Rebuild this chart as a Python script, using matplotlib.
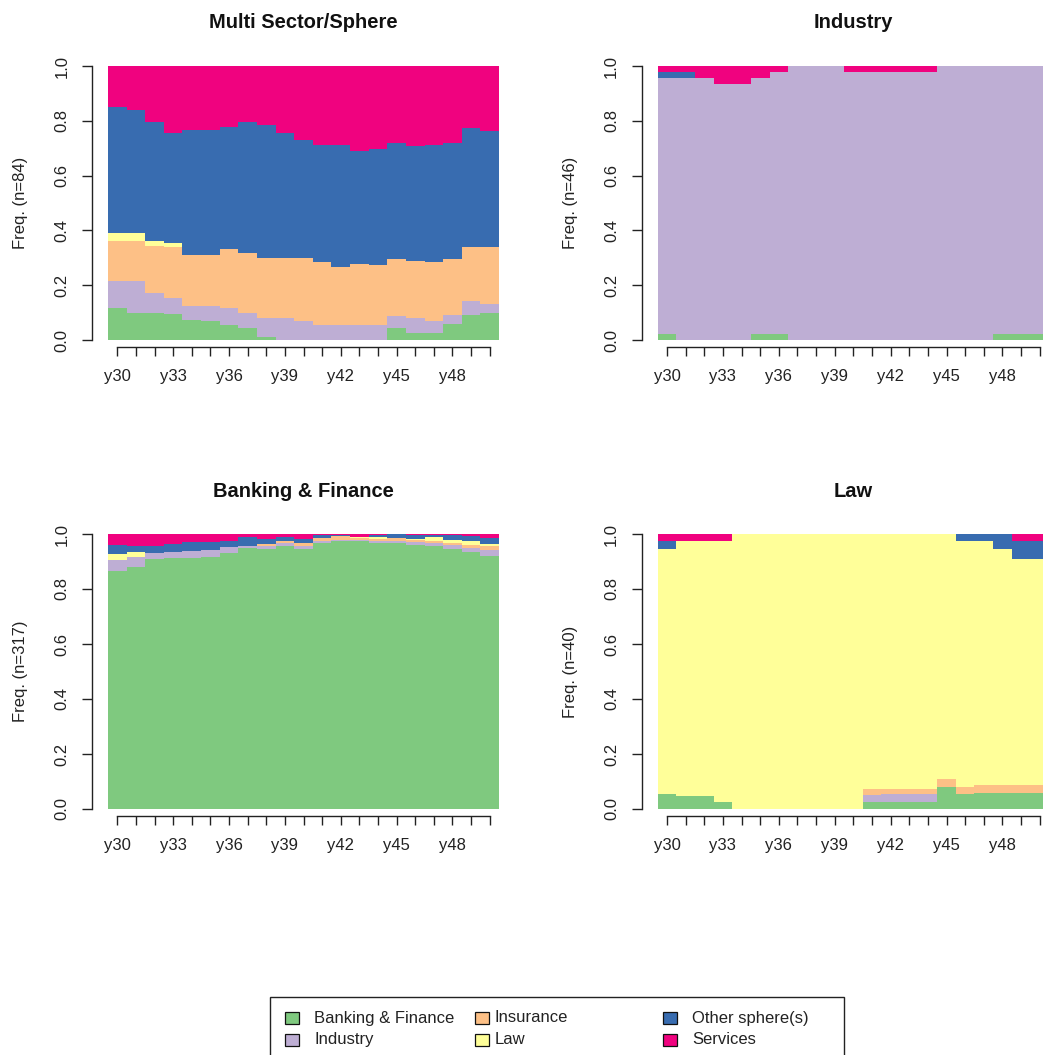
import matplotlib
matplotlib.use("Agg")
import matplotlib.pyplot as plt
from matplotlib.patches import Rectangle
import numpy as np

plt.rcParams['font.family'] = ['Liberation Sans', 'DejaVu Sans']

# states (bottom to top) and RColorBrewer "Accent" colours
states = ['Banking & Finance', 'Industry', 'Insurance', 'Law', 'Other sphere(s)', 'Services']
colors = ['#7FC97F', '#BEAED4', '#FDC086', '#FFFF99', '#386CB0', '#F0027F']
years = ['y%d' % y for y in range(30, 51)]

# --- Multi Sector/Sphere (n=84): share of each state per year
multi_bank = [.116, .099, .099, .095, .072, .071, .054, .043, .010, 0, 0, 0, 0, 0, 0, .043, .026, .024, .060, .093, .100]
multi_ind = [.099, .116, .071, .060, .053, .054, .062, .054, .072, .082, .071, .054, .054, .054, .054, .045, .056, .047, .033, .049, .031]
multi_ins = [.145, .145, .174, .183, .186, .186, .216, .221, .218, .218, .229, .229, .214, .225, .219, .206, .208, .212, .201, .196, .207]
multi_law = [.029, .029, .017, .017, 0, 0, 0, 0, 0, 0, 0, 0, 0, 0, 0, 0, 0, 0, 0, 0, 0]
multi_oth = [.463, .452, .436, .402, .457, .457, .447, .478, .485, .457, .429, .429, .444, .411, .423, .424, .417, .429, .424, .436, .425]
multi_ser = [.148, .159, .203, .243, .232, .232, .221, .204, .215, .243, .271, .288, .288, .310, .304, .282, .293, .288, .282, .226, .237]

# --- Industry (n=46): counts per state
ind_n = 46
ind_bank = [1, 0, 0, 0, 0, 1, 1, 0, 0, 0, 0, 0, 0, 0, 0, 0, 0, 0, 1, 1, 1]
ind_ind = [43, 44, 44, 43, 43, 43, 44, 46, 46, 46, 45, 45, 45, 45, 45, 46, 46, 46, 45, 45, 45]
ind_ins = [0] * 21
ind_law = [0] * 21
ind_oth = [1, 1, 0, 0, 0, 0, 0, 0, 0, 0, 0, 0, 0, 0, 0, 0, 0, 0, 0, 0, 0]
ind_ser = [1, 1, 2, 3, 3, 2, 1, 0, 0, 0, 1, 1, 1, 1, 1, 0, 0, 0, 0, 0, 0]

# --- Banking & Finance (n=317)
bank_bank = [.866, .881, .908, .911, .911, .917, .932, .948, .946, .958, .944, .966, .973, .973, .968, .966, .961, .955, .945, .934, .921]
bank_ind = [.039, .034, .024, .025, .027, .025, .022, .010, .010, .008, .011, .007, .006, .004, .007, .008, .009, .011, .014, .015, .022]
bank_ins = [0, 0, 0, 0, 0, 0, 0, 0, .008, .010, .011, .012, .013, .008, .007, .011, .009, .008, .007, .012, .012]
bank_law = [.021, .021, 0, 0, 0, 0, 0, 0, 0, 0, 0, 0, 0, .003, .006, 0, .003, .014, .014, .014, .009]
bank_oth = [.034, .022, .026, .028, .032, .028, .022, .030, .018, .012, .016, .011, .005, .002, .009, .015, .015, .009, .015, .017, .021]
bank_ser = [.040, .042, .042, .036, .030, .030, .024, .012, .018, .012, .018, .004, .003, .010, .003, 0, .003, .003, .005, .008, .015]

# --- Law (n=40)
law_bank = [.053, .049, .049, .025, 0, 0, 0, 0, 0, 0, 0, .025, .025, .025, .025, .081, .053, .059, .059, .059, .059]
law_ind = [0, 0, 0, 0, 0, 0, 0, 0, 0, 0, 0, .025, .028, .028, .028, 0, 0, 0, 0, 0, 0]
law_ins = [0, 0, 0, 0, 0, 0, 0, 0, 0, 0, 0, .024, .021, .021, .021, .028, .028, .027, .027, .027, .027]
law_law = [.892, .924, .924, .948, 1, 1, 1, 1, 1, 1, 1, .926, .926, .926, .926, .891, .892, .887, .859, .824, .824]
law_oth = [.028, 0, 0, 0, 0, 0, 0, 0, 0, 0, 0, 0, 0, 0, 0, 0, .027, .027, .055, .063, .063]
law_ser = [.027, .027, .027, .027, 0, 0, 0, 0, 0, 0, 0, 0, 0, 0, 0, 0, 0, 0, 0, .027, .027]

panels = [
    ('Multi Sector/Sphere', 84, [multi_bank, multi_ind, multi_ins, multi_law, multi_oth, multi_ser]),
    ('Industry', 46, [np.array(v) / ind_n for v in [ind_bank, ind_ind, ind_ins, ind_law, ind_oth, ind_ser]]),
    ('Banking & Finance', 317, [bank_bank, bank_ind, bank_ins, bank_law, bank_oth, bank_ser]),
    ('Law', 40, [law_bank, law_ind, law_ins, law_law, law_oth, law_ser]),
]

W, H = 1043, 1055
fig = plt.figure(figsize=(W / 100, H / 100), dpi=100)

def fx(px):
    return px / W

def fy(py):
    return 1 - py / H

# pixel boxes of the plot regions: left, top, right, bottom
boxes = [(108, 66, 499, 340), (657.7, 66, 1049, 340),
         (108, 534, 499, 809), (657.7, 534, 1049, 809)]
title_y = [22, 22, 492, 492]

x = np.arange(len(years))
edges = np.arange(len(years) + 1) - 0.5
for (title, n, layers), (l, t, r, b), ty in zip(panels, boxes, title_y):
    ax = fig.add_axes([fx(l), fy(b), fx(r - l), (b - t) / H])
    bottom = np.zeros(len(years))
    for vals, c in zip(layers, colors):
        vals = np.asarray(vals, dtype=float)
        ax.stairs(bottom + vals, edges, baseline=bottom, fill=True,
                  color=c, linewidth=0)
        bottom += vals
    ax.set_xlim(-0.5, len(years) - 0.5)
    ax.set_ylim(0, 1)

    # R style axes
    for s in ['top', 'right']:
        ax.spines[s].set_visible(False)
    ax.spines['left'].set_position(('outward', 11.5))
    ax.spines['left'].set_bounds(0, 1)
    ax.spines['bottom'].set_position(('outward', 5))
    ax.spines['bottom'].set_bounds(0, len(years) - 1)
    for s in ['left', 'bottom']:
        ax.spines[s].set_linewidth(1.0)
        ax.spines[s].set_color('#222222')
    ax.set_yticks(np.arange(0, 1.01, 0.2))
    ax.set_yticklabels(['%.1f' % v for v in np.arange(0, 1.01, 0.2)])
    ax.set_xticks(x)
    ax.set_xticklabels([yr if i % 3 == 0 else '' for i, yr in enumerate(years)])
    ax.tick_params(axis='y', length=7.2, width=1.0, pad=9, labelsize=12,
                   labelrotation=90, color='#222222', labelcolor='#222222')
    ax.tick_params(axis='x', length=6.7, width=1.0, pad=9, labelsize=12,
                   color='#222222', labelcolor='#222222')
    for lab in ax.get_yticklabels():
        lab.set_va('center')

    cx = (l + r) / 2
    fig.text(fx(cx), fy(ty), title, ha='center', va='center',
             fontsize=14.5, fontweight='bold', color='#111111')
    fig.text(fx(l - 87.5), fy((t + b) / 2), 'Freq. (n=%d)' % n, rotation=90,
             ha='center', va='center', fontsize=12, color='#222222')

# legend box at the bottom (3 columns, 2 rows)
frame = Rectangle((fx(270), fy(1070)), fx(844 - 270), (1070 - 997) / H,
                  transform=fig.transFigure, facecolor='white',
                  edgecolor='#222222', linewidth=1.0)
fig.patches.append(frame)
col_sq = [292, 482, 670]
col_tx = [314, 495, 692]
row_y = [1018, 1039.5]
for i, (s, c) in enumerate(zip(states, colors)):
    col, row = i // 2, i % 2
    sq = Rectangle((fx(col_sq[col] - 7), fy(row_y[row] + 6)), fx(14), 12 / H,
                   transform=fig.transFigure, facecolor=c,
                   edgecolor='#111111', linewidth=0.9)
    fig.patches.append(sq)
    fig.text(fx(col_tx[col]), fy(row_y[row]), s, ha='left', va='center',
             fontsize=12, color='#222222')

fig.savefig('out.png', dpi=100)
